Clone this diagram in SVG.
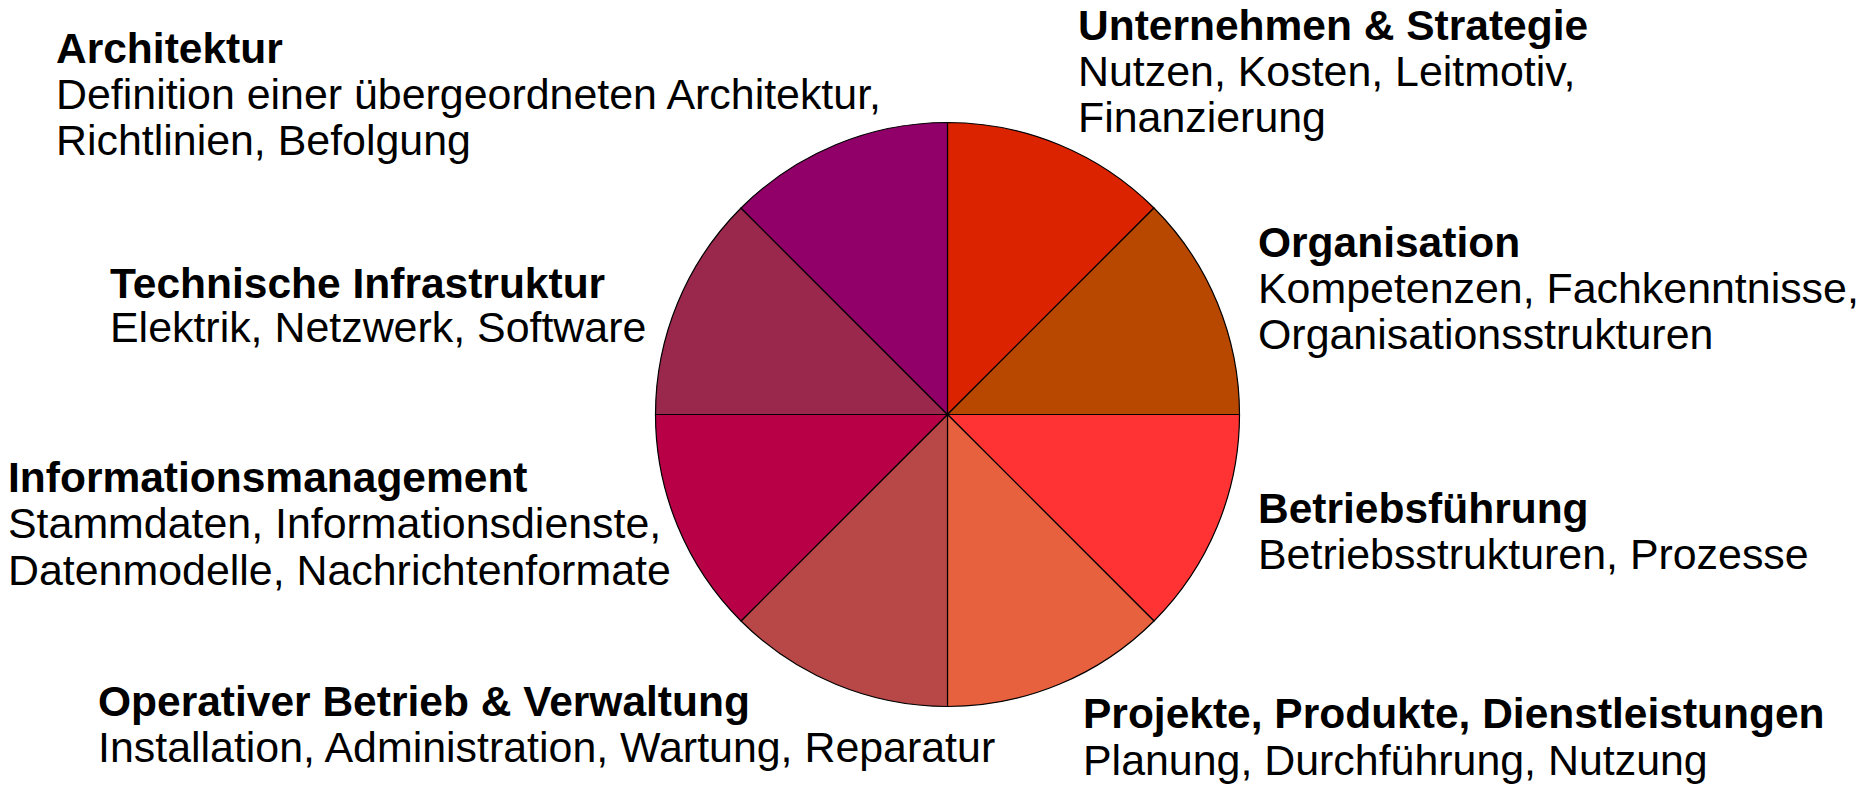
<svg xmlns="http://www.w3.org/2000/svg" width="1864" height="786" viewBox="0 0 1864 786">
<style>
.seg{stroke:#000;stroke-width:1.2;stroke-linejoin:round}
text{font-family:"Liberation Sans",Arial,sans-serif;font-size:42.9px;fill:#000}
.t{font-weight:bold;font-size:42.5px}
</style>
<rect width="1864" height="786" fill="#fff"/>
<g id="pie">
<path class="seg" fill="#DC2300" d="M947.5,414.5 L947.5,122.5 A292,292 0 0 1 1154,208 Z"/>
<path class="seg" fill="#B84700" d="M947.5,414.5 L1154,208 A292,292 0 0 1 1239.5,414.5 Z"/>
<path class="seg" fill="#FF3333" d="M947.5,414.5 L1239.5,414.5 A292,292 0 0 1 1154,621 Z"/>
<path class="seg" fill="#E8613E" d="M947.5,414.5 L1154,621 A292,292 0 0 1 947.5,706.5 Z"/>
<path class="seg" fill="#B84747" d="M947.5,414.5 L947.5,706.5 A292,292 0 0 1 741,621 Z"/>
<path class="seg" fill="#B80047" d="M947.5,414.5 L741,621 A292,292 0 0 1 655.5,414.5 Z"/>
<path class="seg" fill="#99284C" d="M947.5,414.5 L655.5,414.5 A292,292 0 0 1 741,208 Z"/>
<path class="seg" fill="#900068" d="M947.5,414.5 L741,208 A292,292 0 0 1 947.5,122.5 Z"/>
</g>
<g id="architektur">
<text class="t" x="56" y="63">Architektur</text>
<text x="56" y="109">Definition einer übergeordneten Architektur,</text>
<text x="56" y="155">Richtlinien, Befolgung</text>
</g>
<g id="unternehmen">
<text class="t" x="1078" y="40">Unternehmen &amp; Strategie</text>
<text x="1078" y="86">Nutzen, Kosten, Leitmotiv,</text>
<text x="1078" y="132">Finanzierung</text>
</g>
<g id="organisation">
<text class="t" x="1258" y="257">Organisation</text>
<text x="1258" y="303">Kompetenzen, Fachkenntnisse,</text>
<text x="1258" y="349">Organisationsstrukturen</text>
</g>
<g id="technische-infrastruktur">
<text class="t" x="110" y="298">Technische Infrastruktur</text>
<text x="110" y="342">Elektrik, Netzwerk, Software</text>
</g>
<g id="informationsmanagement">
<text class="t" x="8" y="492">Informationsmanagement</text>
<text x="8" y="538">Stammdaten, Informationsdienste,</text>
<text x="8" y="585">Datenmodelle, Nachrichtenformate</text>
</g>
<g id="betriebsfuehrung">
<text class="t" x="1258" y="523">Betriebsführung</text>
<text x="1258" y="569">Betriebsstrukturen, Prozesse</text>
</g>
<g id="operativer-betrieb">
<text class="t" x="98" y="716">Operativer Betrieb &amp; Verwaltung</text>
<text x="98" y="762">Installation, Administration, Wartung, Reparatur</text>
</g>
<g id="projekte">
<text class="t" x="1083" y="728">Projekte, Produkte, Dienstleistungen</text>
<text x="1083" y="775">Planung, Durchführung, Nutzung</text>
</g>
<g id="connectors"></g>
</svg>
